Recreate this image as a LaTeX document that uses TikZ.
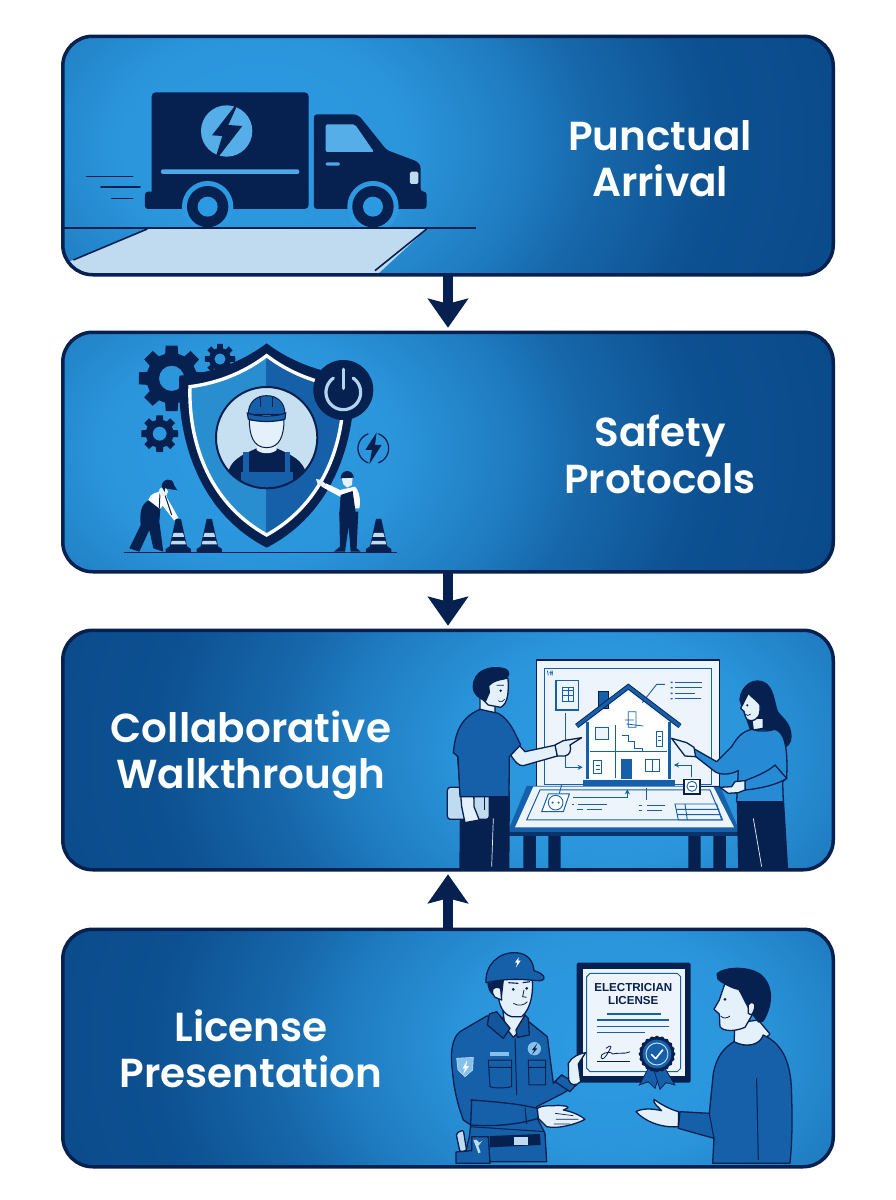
\documentclass[tikz,border=0pt]{standalone}
\usepackage{fontspec}
\usetikzlibrary{arrows.meta}
\newfontfamily\popsb{Poppins SemiBold}
\newfontfamily\certfont{Liberation Sans}
\definecolor{navy}{HTML}{06204F}
\definecolor{dkb}{HTML}{1560A9}
\definecolor{lit}{HTML}{C0DBF0}
\definecolor{skin}{HTML}{E4F0FA}
\definecolor{sky}{HTML}{2C9AE2}
\definecolor{paper}{HTML}{EDF4FB}
\definecolor{pdark}{HTML}{0A4A8A}
\pgfdeclareradialshading{pan}{\pgfpoint{0bp}{0bp}}{color(0bp)=(sky); color(6bp)=(sky!97!black); color(11bp)=(sky!62!pdark); color(14bp)=(sky!36!pdark); color(19bp)=(sky!8!pdark); color(25bp)=(pdark); color(50bp)=(pdark)}
\newcommand\gearshape[6]{%
  \fill[navy,even odd rule] ({#1+#3*cos(0)},{#2+#3*sin(0)})
  \foreach \i in {1,...,#6}{
    -- ({#1+#3*cos((\i-1)*360/#6+180/#6*0.46)},{#2+#3*sin((\i-1)*360/#6+180/#6*0.46)})
    -- ({#1+#4*cos((\i-1)*360/#6+180/#6*0.66)},{#2+#4*sin((\i-1)*360/#6+180/#6*0.66)})
    -- ({#1+#4*cos(\i*360/#6-180/#6*0.66)},{#2+#4*sin(\i*360/#6-180/#6*0.66)})
    -- ({#1+#3*cos(\i*360/#6-180/#6*0.46)},{#2+#3*sin(\i*360/#6-180/#6*0.46)})
  } -- cycle (#1,#2) circle (#5);}
\newcommand\conepic[1]{%
  \fill[navy] (#1-38,652) -- (#1-38,642) -- (#1-26,634) -- (#1-8,552) -- (#1+8,552) -- (#1+26,634) -- (#1+38,642) -- (#1+38,652) -- cycle;
  \fill[lit] (#1-14,594) -- (#1+14,594) -- (#1+18,606) -- (#1-18,606) -- cycle;
  \fill[lit] (#1-20,618) -- (#1+20,618) -- (#1+23,628) -- (#1-23,628) -- cycle;}
\tikzset{
  z/.style 2 args={shift={(#1,#2)},x=0.3333pt,y=-0.3333pt},
  panelbox/.style={draw=navy,line width=3.5pt,rounded corners=30pt,fill=pdark,minimum width=767pt,inner sep=0pt},
  rim/.style={draw=navy,line width=3.5pt,rounded corners=30pt},
  flow/.style={draw=navy,line width=10pt,-{Stealth[length=29pt,width=40pt,inset=5pt]},shorten >=4.5pt},
  title/.style={text=white,align=center,font=\popsb\fontsize{40.5}{46.5}\selectfont,inner sep=0pt},
  ol/.style={draw=navy,line width=1.3pt,line join=round},
  thin/.style={draw=dkb,line width=1pt},
  nav/.style={draw=navy,line width=1pt,line cap=round}
}
\begin{document}
\begin{tikzpicture}[x=1pt,y=-1pt]
\useasboundingbox (0,0) rectangle (896,1200);
\fill[white] (0,0) rectangle (896,1200);
\node[panelbox,minimum height=235pt] (p1) at (448,155.5) {};
\node[panelbox,minimum height=236pt] (p2) at (448,452) {};
\node[panelbox,minimum height=236pt] (p3) at (448,750) {};
\node[panelbox,minimum height=234pt] (p4) at (448,1048) {};

%%% PANEL 1
\begin{scope}
\clip[rounded corners=30pt] (p1.south west) rectangle (p1.north east);
\shade[shading=pan] (-340,-305) rectangle (860,595);
\begin{scope}[z={60}{30}]
  \fill[lit] (262,597) -- (1100,597) -- (945,740) -- (0,740) -- (0,705) -- (40,690) -- cycle;
  \draw[navy,line width=1.6pt] (262,597) -- (40,690);
  \draw[navy,line width=1.6pt] (1100,597) -- (945,722);
  \draw[navy,line width=1.8pt] (0,595) -- (1248,595);
  \draw[nav,line width=1.6pt] (80,439) -- (218,439) (123,471) -- (240,471) (155,505) -- (218,505);
  % cargo box
  \fill[navy,rounded corners=4pt] (275,187) rectangle (746,537);
  \fill[navy,rounded corners=3pt] (255,485) rectangle (300,537);
  \fill[navy,rounded corners=3pt] (762,537) -- (762,253) -- (870,253) .. controls (890,253) and (900,260) .. (912,275) -- (980,360) -- (1055,388) .. controls (1075,396) and (1082,405) .. (1082,425) -- (1082,485) -- (1100,485) -- (1100,537) -- cycle;
  \fill[sky!80!white,rounded corners=2pt] (797,283) -- (885,283) -- (942,366) -- (797,366) -- cycle;
  \fill[sky!85!white,rounded corners=1.5pt] (797,397) rectangle (840,407);
  \fill[lit,rounded corners=1.5pt] (1050,425) rectangle (1075,462);
  \fill[sky!85!white,rounded corners=2pt] (303,418) rectangle (718,432);
  \fill[sky!80!white] (500,303) circle (77);
  \fill[navy] (540,208) -- (505,285) -- (547,288) -- (462,398) -- (487,318) -- (456,316) -- cycle;
  \foreach \wx in {443,939}{
    \fill[sky] (\wx,530) circle (77);
    \fill[navy] (\wx,530) circle (62);
    \fill[sky] (\wx,530) circle (30);
  }
  \fill[lit] (300,597) rectangle (1075,612);
  \draw[navy,line width=1.8pt] (300,595) -- (1100,595);
\end{scope}
\end{scope}
\draw[rim] (p1.south west) rectangle (p1.north east);

%%% PANEL 2
\begin{scope}
\clip[rounded corners=30pt] (p2.south west) rectangle (p2.north east);
\shade[shading=pan] (-350,0) rectangle (850,900);
\begin{scope}[z={110}{335}]
  \gearshape{185}{130}{100}{76}{38}{8}
  \gearshape{330}{72}{46}{33}{17}{8}
  \gearshape{149}{296}{56}{42}{21}{8}
  % shield
  \fill[navy] (470,25) .. controls (390,85) and (300,115) .. (208,122) .. controls (200,300) and (260,530) .. (470,638) .. controls (680,530) and (740,300) .. (732,122) .. controls (640,115) and (550,85) .. (470,25) -- cycle;
  \fill[sky!92!black] (470,62) .. controls (400,115) and (320,145) .. (240,155) .. controls (235,310) and (290,500) .. (470,600) -- cycle;
  \fill[dkb] (470,62) .. controls (540,115) and (620,145) .. (700,155) .. controls (705,310) and (650,500) .. (470,600) -- cycle;
  \draw[white,line width=3.4pt,line join=miter] (470,62) .. controls (400,115) and (320,145) .. (240,155) .. controls (235,310) and (290,500) .. (470,600) .. controls (650,500) and (705,310) .. (700,155) .. controls (620,145) and (540,115) .. (470,62) -- cycle;
  % medallion
  \begin{scope}
    \clip (470,308) circle (152);
    \fill[lit!90!white] (470,308) circle (152);
    \fill[navy] (352,420) .. controls (360,375) and (395,360) .. (440,340) -- (500,340) .. controls (545,360) and (580,375) .. (590,420) -- (590,470) -- (350,470) -- cycle;
    \fill[dkb] (392,410) rectangle (548,470);
    \fill[dkb] (400,350) rectangle (416,412);
    \fill[dkb] (524,350) rectangle (540,412);
    \fill[skin] (440,310) -- (500,310) -- (500,345) .. controls (485,358) and (455,358) .. (440,345) -- cycle;
    \draw[ol,fill=skin,line width=1pt] (418,255) -- (522,255) .. controls (522,300) and (510,338) .. (470,338) .. controls (430,338) and (418,300) .. (418,255) -- cycle;
    \draw[ol,fill=dkb,line width=1pt] (415,238) .. controls (415,200) and (440,182) .. (470,182) .. controls (500,182) and (525,200) .. (525,238) -- cycle;
    \draw[navy,line width=1pt] (452,186) -- (452,215) (488,186) -- (488,215);
    \draw[navy,fill=dkb,line width=1.2pt] (412,234) .. controls (440,246) and (500,246) .. (527,234) -- (525,252) .. controls (500,262) and (440,262) .. (415,252) -- cycle;
  \end{scope}
  \draw[navy,line width=2pt] (470,308) circle (152);
  % power
  \fill[navy] (700,165) circle (90);
  \draw[lit!90!sky,line width=3.2pt,line cap=round] plot[smooth,domain=-55:235,samples=36] ({700+52*cos(\x)},{172+52*sin(\x)});
  \draw[lit!90!sky,line width=3.6pt,line cap=round] (700,103) -- (700,160);
  % small bolt ring
  \draw[navy,line width=1.3pt,line cap=round] plot[smooth,domain=-70:70,samples=16] ({790+46*cos(\x)},{340+46*sin(\x)});
  \draw[navy,line width=1.3pt,line cap=round] plot[smooth,domain=110:250,samples=16] ({790+46*cos(\x)},{340+46*sin(\x)});
  \fill[navy] (800,292) -- (766,345) -- (786,345) -- (778,388) -- (815,330) -- (795,330) -- cycle;
  % ground, cones
  \draw[navy,line width=1.6pt] (42,652) -- (862,652);
  \conepic{205}\conepic{298}\conepic{806}
  % left worker
  \fill[navy] (118,495) .. controls (95,505) and (88,530) .. (92,570) -- (62,632) -- (58,640) -- (88,650) -- (118,585) -- (130,640) -- (160,650) -- (148,560) -- (152,510) -- cycle;
  \fill[white] (115,495) .. controls (120,475) and (140,470) .. (165,470) -- (172,490) -- (205,548) -- (192,556) -- (158,512) -- (150,522) -- cycle;
  \draw[navy,line width=1pt] (150,472) -- (148,520) (165,480) -- (185,540);
  \fill[skin] (160,470) circle (14);
  \fill[navy] (155,455) .. controls (155,430) and (190,425) .. (192,450) -- (202,466) -- (165,460) -- (165,472) -- cycle;
  % right worker
  \fill[navy] (688,530) -- (745,530) -- (740,640) -- (752,650) -- (722,650) -- (716,575) -- (705,650) -- (672,650) -- (690,635) -- cycle;
  \fill[white] (690,465) -- (735,455) .. controls (750,470) and (752,500) .. (748,520) -- (730,520) -- (728,470) -- (690,485) -- (640,458) -- (648,445) -- cycle;
  \fill[navy] (692,480) -- (728,468) -- (738,540) -- (688,540) -- cycle;
  \fill[skin] (618,432) -- (635,435) -- (650,450) -- (640,458) -- (622,445) -- cycle;
  \fill[skin] (694,425) -- (728,425) -- (726,450) -- (712,458) -- (700,448) -- cycle;
  \fill[navy] (692,430) .. controls (690,405) and (728,398) .. (732,428) -- cycle;
\end{scope}
\end{scope}
\draw[rim] (p2.south west) rectangle (p2.north east);

%%% PANEL 3
\begin{scope}
\clip[rounded corners=30pt] (p3.south west) rectangle (p3.north east);
\shade[shading=pan] (10,300) rectangle (1210,1200);
\begin{scope}[z={430}{650}]
  % table legs
  \fill[navy] (280,555) rectangle (318,660) (355,555) rectangle (392,660) (775,555) rectangle (812,660) (850,555) rectangle (888,660);
  % board
  \draw[navy,line width=1.2pt,fill=paper] (320,30) rectangle (868,412);
  \draw[thin] (345,55) rectangle (845,405);
  \draw[dkb,line width=.7pt] (352,62) -- (355,76) (362,62) -- (362,76) (367,62) -- (367,76) (358,68) -- (369,68);
  % table
  \fill[dkb] (290,408) -- (870,408) -- (935,558) -- (228,558) -- cycle;
  \fill[navy!70!dkb] (228,545) -- (935,545) -- (935,558) -- (228,558) -- cycle;
  \fill[paper] (310,410) -- (850,410) -- (912,532) -- (255,532) -- cycle;
  \draw[thin] (330,420) -- (840,420) -- (878,510) -- (290,510) -- cycle;
  % blueprint items on board
  \draw[dkb,line width=1.1pt] (378,92) rectangle (445,180);
  \draw[dkb,line width=.8pt] (398,112) rectangle (430,155);
  \draw[dkb,line width=.8pt] (398,122) -- (430,122) (398,135) -- (430,135) (414,112) -- (414,155);
  \draw[dkb,line width=.9pt,-{Stealth[length=5pt,width=5pt]}] (405,190) -- (405,352) -- (458,352);
  \draw[dkb,line width=.9pt,-{Stealth[length=5pt,width=5pt]}] (785,380) -- (785,345) -- (732,345);
  \draw[dkb,line width=.9pt,-{Stealth[length=5pt,width=5pt]}] (705,103) -- (680,103) -- (618,182);
  \draw[dkb,line width=1pt] (735,97) -- (815,97) (735,113) -- (815,113) (735,130) -- (795,130) (735,146) -- (812,146);
  \fill[dkb] (722,95) rectangle (728,99) (722,111) rectangle (728,115) (722,128) rectangle (728,132) (722,144) rectangle (728,148);
  % house
  \fill[white] (468,225) -- (595,125) -- (722,225) -- (722,388) -- (468,388) -- cycle;
  \draw[navy,line width=.8pt,fill=dkb] (505,125) rectangle (535,175);
  \draw[dkb,line width=2.8pt] (472,215) -- (472,388) (718,215) -- (718,388);
  \draw[navy,line width=5pt,line join=miter] (440,228) -- (595,110) -- (750,228);
  \draw[dkb,line width=3.2pt,line join=miter] (440,228) -- (595,110) -- (750,228);
  \fill[dkb] (458,390) rectangle (735,408);
  \draw[dkb,line width=1pt] (480,305) -- (710,305) (557,225) -- (557,385);
  \draw[dkb,line width=1pt,fill=paper] (498,232) rectangle (535,268);
  \draw[dkb,line width=1pt] (575,255) -- (595,255) -- (595,275) -- (615,275) -- (615,295) -- (637,295) -- (637,303);
  \fill[dkb] (572,328) rectangle (605,388);
  \draw[dkb,line width=1pt] (680,245) rectangle (698,288) (492,332) rectangle (516,370) (648,330) rectangle (690,365) (669,330) -- (669,365);
  \draw[dkb,line width=.8pt] (685,258) -- (694,258) (685,272) -- (694,272) (498,345) -- (510,345) (498,358) -- (510,358);
  \draw[dkb,line width=.8pt] (595,185) rectangle (618,232) (585,210) -- (612,210) (590,222) -- (640,228);
  % table items
  \draw[dkb,line width=1pt,fill=white] (355,432) -- (418,432) -- (400,485) -- (335,485) -- cycle;
  \draw[dkb,line width=.9pt] (377,458) circle (22);
  \fill[dkb] (368,458) circle (3.5) (386,458) circle (3.5);
  \draw[dkb,line width=.9pt] (388,430) -- (395,405);
  \draw[dkb,line width=.9pt,-{Stealth[length=5pt,width=5pt]}] (430,443) -- (592,443) -- (592,418);
  \draw[dkb,line width=.9pt] (425,462) -- (432,462) (445,462) -- (530,462) (440,478) -- (460,478) (472,478) -- (515,478) (648,415) -- (648,450);
  \draw[dkb,line width=.9pt] (628,465) -- (636,465) (650,465) -- (705,465) (628,480) -- (636,480) (650,480) -- (695,480);
  \draw[dkb,line width=.9pt] (735,462) -- (860,462) -- (875,510) -- (745,510) -- cycle (738,478) -- (868,478) (741,494) -- (870,494) (765,462) -- (772,510);
  \draw[navy,line width=.9pt] (810,410) -- (870,410);
  \draw[navy,line width=1.1pt,fill=white] (762,388) rectangle (810,432);
  \draw[dkb,line width=.9pt] (786,409) circle (15) (778,409) -- (794,409);
  % MAN
  \fill[navy] (90,425) -- (240,425) -- (238,665) -- (88,665) -- cycle;
  \draw[skin,line width=.7pt] (190,505) -- (185,650);
  \draw[ol,fill=lit,rounded corners=3pt] (52,412) rectangle (178,508);
  \draw[navy,line width=1pt] (165,440) -- (165,480);
  \draw[ol,fill=skin] (82,310) -- (130,315) -- (132,470) -- (148,510) -- (105,518) -- (95,470) -- cycle;
  \draw[ol,fill=skin] (240,312) .. controls (255,335) and (265,348) .. (280,347) -- (382,318) -- (378,285) -- (285,305) -- (262,280) -- cycle;
  \draw[ol,fill=skin] (375,285) -- (400,272) -- (455,263) -- (420,285) .. controls (425,300) and (420,315) .. (405,318) -- (382,318) -- cycle;
  \draw[ol,fill=skin] (150,140) -- (195,140) -- (195,190) -- (150,182) -- cycle;
  \draw[ol,fill=dkb] (150,178) -- (205,190) .. controls (240,210) and (255,250) .. (272,285) -- (238,320) -- (237,440) -- (90,440) -- (84,320) -- (70,308) .. controls (75,260) and (85,205) .. (150,178) -- cycle;
  \draw[ol,fill=skin] (160,90) -- (234,85) .. controls (236,120) and (236,160) .. (212,172) -- (175,165) -- (150,140) -- cycle;
  \fill[navy] (128,110) .. controls (128,60) and (180,42) .. (225,55) .. controls (245,62) and (240,82) .. (225,88) .. controls (205,92) and (190,95) .. (178,108) -- (180,128) -- (168,155) .. controls (145,145) and (128,135) .. (128,110) -- cycle;
  \fill[navy] (212,122) circle (4);
  \draw[navy,line width=.7pt] (200,106) -- (222,106) (205,152) .. controls (212,158) and (220,155) .. (224,148);
  % WOMAN
  \fill[navy] (920,445) -- (1062,445) -- (1075,665) -- (925,665) -- cycle;
  \draw[skin,line width=.7pt] (970,505) -- (995,650);
  \fill[navy] (928,150) .. controls (930,105) and (975,75) .. (1010,100) .. controls (1035,120) and (1035,165) .. (1045,185) .. controls (1060,205) and (1085,220) .. (1085,260) .. controls (1085,280) and (1072,295) .. (1060,292) -- (1030,240) -- (960,240) -- cycle;
  \draw[ol,fill=skin] (965,205) -- (1000,205) -- (1000,235) -- (970,240) -- cycle;
  \draw[ol,fill=skin] (955,130) .. controls (975,150) and (985,155) .. (990,165) .. controls (992,195) and (985,212) .. (960,212) .. controls (945,210) and (945,192) .. (942,184) -- (932,175) -- (940,160) -- cycle;
  \fill[navy] (952,166) circle (3.5);
  \draw[navy,line width=.7pt] (945,192) .. controls (950,198) and (958,198) .. (962,192);
  \draw[ol,fill=sky!75!dkb] (965,238) .. controls (985,245) and (1010,245) .. (1035,238) .. controls (1060,245) and (1075,280) .. (1070,385) -- (1058,395) -- (1060,455) -- (920,455) -- (925,362) .. controls (900,375) and (870,375) .. (855,365) -- (795,318) -- (790,295) -- (860,335) -- (905,290) .. controls (920,265) and (935,245) .. (965,238) -- cycle;
  \draw[ol,fill=sky!75!dkb] (1035,345) .. controls (1020,360) and (990,375) .. (945,392) -- (945,420) .. controls (1000,415) and (1050,400) .. (1070,385) -- cycle;
  \draw[ol,fill=skin] (725,265) -- (770,278) -- (792,292) -- (797,320) -- (765,318) -- (745,292) -- cycle;
  \draw[ol,fill=skin] (870,412) -- (905,410) -- (915,395) -- (945,392) -- (945,420) -- (925,428) -- (895,430) -- cycle;
\end{scope}
\end{scope}
\draw[rim] (p3.south west) rectangle (p3.north east);

%%% PANEL 4
\begin{scope}
\clip[rounded corners=30pt] (p4.south west) rectangle (p4.north east);
\shade[shading=pan] (10,595) rectangle (1210,1495);
\begin{scope}[z={430}{940}]
  % certificate
  \fill[navy,rounded corners=1.5pt] (440,68) rectangle (782,428);
  \fill[paper] (458,88) rectangle (764,408);
  \draw[thin] (480,100) -- (742,100) -- (752,110) -- (752,385) -- (742,395) -- (480,395) -- (470,385) -- (470,110) -- cycle;
  \node[text=navy,align=center,font=\certfont\bfseries\fontsize{11.6}{13}\selectfont,inner sep=0pt] (cert) at (610,162) {ELECTRICIAN\\LICENSE};
  \draw[dkb,line width=1.1pt] (530,222) -- (692,222) (500,240) -- (718,240) (500,260) -- (718,260) (500,278) -- (645,278);
  \draw[navy,line width=.8pt] (500,365) -- (600,365);
  \draw[navy,line width=.8pt,line join=round] (528,325) .. controls (550,310) and (545,320) .. (530,345) .. controls (522,360) and (508,360) .. (515,345) .. controls (525,335) and (545,335) .. (548,342) .. controls (556,335) and (558,345) .. (565,340) .. controls (575,335) and (575,345) .. (600,335);
  \fill[dkb,draw=navy,line width=.8pt] (655,385) -- (628,435) -- (655,425) -- (675,445) -- (695,385) -- cycle;
  \fill[dkb,draw=navy,line width=.8pt] (705,385) -- (735,435) -- (708,428) -- (690,448) -- (670,385) -- cycle;
  \fill[navy] plot[domain=0:360,samples=121,smooth] ({681+(53+2*cos(20*\x))*cos(\x)},{342+(53+2*cos(20*\x))*sin(\x)}) -- cycle;
  \fill[dkb] (681,342) circle (43);
  \draw[lit,line width=1pt] (681,342) circle (33);
  \draw[white,line width=1.6pt,line join=round,line cap=round] (664,343) -- (677,356) -- (698,330);
  % electrician
  \draw[ol,fill=dkb] (170,228) -- (90,275) .. controls (65,295) and (60,340) .. (68,400) .. controls (72,450) and (85,500) .. (100,540) -- (122,555) -- (118,590) -- (100,665) -- (350,665) -- (345,580) -- (322,535) -- (320,500) -- (395,462) -- (440,435) -- (395,405) -- (370,430) -- (352,290) -- (290,240) -- cycle;
  \draw[ol,fill=dkb] (395,405) -- (440,432) -- (420,455) -- (375,425) -- cycle;
  \draw[ol,fill=skin] (415,370) .. controls (425,350) and (450,340) .. (467,338) -- (445,372) -- (452,425) .. controls (440,438) and (420,438) .. (416,420) -- cycle;
  \draw[ol,fill=skin] (218,205) -- (285,205) -- (280,262) -- (250,292) -- (225,260) -- cycle;
  \draw[ol,fill=dkb!85!navy] (200,215) -- (178,222) -- (172,255) -- (220,295) -- (240,265) -- cycle;
  \draw[ol,fill=dkb!85!navy] (285,225) -- (295,235) -- (298,285) -- (262,292) -- (258,270) -- cycle;
  \draw[navy,line width=1pt] (255,295) -- (260,465);
  \draw[ol,fill=skin] (205,120) -- (305,105) .. controls (312,150) and (305,205) .. (275,230) -- (245,230) .. controls (215,222) and (208,190) .. (205,170) .. controls (185,175) and (175,130) .. (205,120) -- cycle;
  \fill[navy] (172,130) -- (222,118) -- (215,180) .. controls (190,170) and (175,160) .. (172,130) -- cycle;
  \draw[ol,fill=skin] (212,145) .. controls (190,135) and (178,150) .. (195,172) -- (215,180) -- cycle;
  \fill[navy] (250,148) circle (4.5) (290,145) circle (4.5);
  \draw[navy,line width=1.1pt] (235,128) -- (265,130) (278,128) -- (300,125);
  \draw[navy,line width=.8pt] (250,190) .. controls (265,200) and (285,195) .. (292,185) (282,150) -- (278,170) -- (290,172);
  \draw[ol,fill=dkb] (168,128) .. controls (165,75) and (205,36) .. (258,38) .. controls (295,40) and (310,65) .. (312,92) .. controls (340,100) and (355,118) .. (330,122) .. controls (300,122) and (250,110) .. (168,128) -- cycle;
  \fill[white] (266,52) -- (255,68) -- (262,68) -- (258,82) -- (272,62) -- (265,62) -- cycle;
  \draw[navy,line width=1pt] (175,360) -- (245,360) -- (245,440) .. controls (225,445) and (190,445) .. (180,440) -- cycle (175,382) -- (245,382);
  \draw[navy,line width=1pt] (295,360) -- (347,360) -- (347,435) -- (297,435) -- cycle (295,382) -- (347,382);
  \fill[lit!60!sky] (180,337) rectangle (237,349);
  \fill[lit!60!sky,draw=lit,line width=.6pt] (80,355) -- (130,352) -- (128,390) -- (105,410) -- (84,390) -- cycle;
  \fill[white] (112,360) -- (98,385) -- (105,385) -- (100,402) -- (117,378) -- (108,378) -- cycle;
  \fill[lit!60!sky] (313,326) circle (20);
  \fill[navy] (322,310) -- (306,330) -- (313,330) -- (306,344) -- (322,325) -- (315,325) -- cycle;
  \draw[ol,fill=dkb] (125,480) .. controls (190,485) and (260,490) .. (322,505) -- (325,535) .. controls (260,555) and (190,560) .. (122,555) -- cycle;
  \draw[navy,line width=1pt] (285,503) -- (290,552) (140,482) -- (120,480);
  \draw[ol,fill=skin] (322,505) .. controls (345,492) and (365,500) .. (385,496) -- (405,498) .. controls (415,500) and (420,502) .. (400,510) .. controls (425,515) and (450,525) .. (465,538) .. controls (440,552) and (385,568) .. (350,560) -- (325,535) -- cycle;
  \draw[navy,line width=.7pt] (375,520) -- (430,527) (378,538) -- (445,538) (372,552) -- (420,552);
  \fill[navy] (180,588) -- (330,582) -- (332,615) -- (180,622) -- cycle;
  \fill[lit] (252,590) rectangle (295,616);
  \draw[navy,line width=1pt] (120,560) -- (345,575);
  \draw[ol,fill=lit,rounded corners=2pt] (78,580) -- (100,570) -- (110,632) -- (90,636) -- cycle;
  \draw[ol,fill=dkb] (78,636) -- (125,632) -- (125,590) -- (175,590) -- (180,670) -- (78,670) -- cycle;
  \fill[lit] (130,600) -- (138,620) -- (145,640) -- (152,637) -- (145,618) -- (157,602) -- (148,608) -- (140,600) -- cycle;
  % customer
  \draw[ol,fill=skin] (915,250) -- (985,240) -- (1020,282) .. controls (990,315) and (950,325) .. (912,312) -- cycle;
  \draw[ol,fill=dkb] (912,305) .. controls (950,325) and (990,315) .. (1000,285) .. controls (1065,315) and (1085,380) .. (1085,470) .. controls (1088,560) and (1085,620) .. (1080,670) -- (848,670) -- (852,595) -- (745,565) -- (750,515) -- (838,520) -- (850,400) .. controls (860,350) and (880,325) .. (912,305) -- cycle;
  \draw[navy,line width=1pt] (980,415) -- (985,660) (838,520) -- (852,595);
  \draw[ol,fill=skin] (885,130) -- (940,140) -- (975,210) -- (945,262) .. controls (915,275) and (880,275) .. (870,260) -- (868,222) -- (852,208) -- (868,180) -- cycle;
  \fill[navy] (860,100) .. controls (880,80) and (950,75) .. (990,100) .. controls (1030,130) and (1035,190) .. (1000,245) -- (985,248) -- (960,215) .. controls (945,190) and (935,165) .. (925,150) .. controls (900,145) and (880,130) .. (870,125) .. controls (860,118) and (858,110) .. (860,100) -- cycle;
  \draw[ol,fill=skin] (955,195) .. controls (970,175) and (985,195) .. (965,225) -- (955,220) -- cycle;
  \fill[navy] (885,178) circle (4.5);
  \draw[navy,line width=.8pt] (872,228) .. controls (880,236) and (890,236) .. (900,228);
  \draw[ol,fill=skin] (746,515) .. controls (725,510) and (695,495) .. (672,478) .. controls (668,490) and (685,500) .. (695,512) .. controls (665,505) and (635,505) .. (618,515) .. controls (640,540) and (690,565) .. (745,560) -- cycle;
\end{scope}
\end{scope}
\draw[rim] (p4.south west) rectangle (p4.north east);

%%% connectors
\draw[flow] (p1) -- (p2);
\draw[flow] (p2) -- (p3);
\draw[flow] (p4) -- (p3);

%%% titles
\node[title] (t1) at (660,158.5) {Punctual\\Arrival};
\node[title] (t2) at (660,454.5) {Safety\\Protocols};
\node[title] (t3) at (251,755) {Collaborative\\Walkthrough};
\node[title] (t4) at (251,1049) {License\\Presentation};
\end{tikzpicture}
\end{document}
